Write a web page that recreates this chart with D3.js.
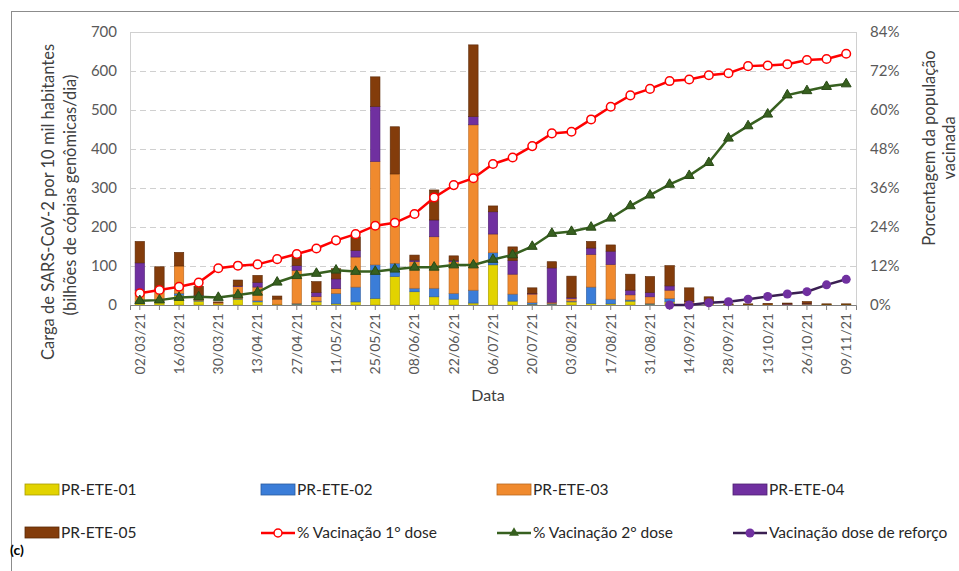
<!DOCTYPE html>
<html>
<head>
<meta charset="utf-8">
<script src="https://cdn.jsdelivr.net/npm/d3@7"></script>
<style>
  body { margin: 0; background: #fff; }
  svg { font-family: Lato, "Open Sans", sans-serif; }
  .tick text { fill: #595959; }
</style>
</head>
<body>
<svg width="959" height="571"></svg>
<script>
// weekly samples
var dates = ["02/03/21","09/03/21","16/03/21","23/03/21","30/03/21","06/04/21","13/04/21","20/04/21","27/04/21","04/05/21",
             "11/05/21","18/05/21","25/05/21","01/06/21","08/06/21","15/06/21","22/06/21","29/06/21","06/07/21","13/07/21",
             "20/07/21","27/07/21","03/08/21","10/08/21","17/08/21","24/08/21","31/08/21","07/09/21","14/09/21","21/09/21",
             "28/09/21","05/10/21","13/10/21","19/10/21","26/10/21","02/11/21","09/11/21"];

var ete01 = [5,8,25,10,3,15,8,2,2,8, 3,8,17,73,34,21,15,5,103,10, 2,2,8,4,3,10,2,8,2,3, 1,1,1,1,1,1,1];
var ete02 = [3,2,5,2,0,2,3,0,2,2, 27,38,86,34,9,22,15,33,31,18, 4,2,2,42,12,3,2,9,2,0, 0,0,0,0,1,0,0];
var ete03 = [30,25,70,10,3,30,35,13,85,12, 12,77,265,229,68,132,81,424,48,51, 22,3,6,84,89,13,17,21,4,3, 0,0,1,1,1,0,0];
var ete04 = [70,5,0,3,0,2,12,0,12,10, 25,17,141,0,4,43,3,21,57,35, 2,88,3,16,34,12,11,11,2,0, 0,0,0,1,1,0,0];
var ete05 = [55,58,35,23,2,15,18,8,27,28, 26,35,76,121,13,77,12,184,15,35, 14,16,55,17,16,41,41,52,34,15, 2,2,2,2,5,2,2];

// % vaccinated
var dose1 = [3.6,4.6,5.6,6.9,11.3,12.1,12.5,14.1,15.7,17.4, 19.9,21.8,24.4,25.3,28,33.1,36.9,39,43.4,45.4,
             48.9,52.8,53.3,57.1,61,64.5,66.5,68.9,69.4,70.7, 71.3,73.5,73.7,74.1,75.4,75.7,77.3];
var dose2 = [1.3,1.5,2.3,2.5,2.3,3.1,3.9,7,9,9.7, 10.7,10.3,10.3,11,11.6,11.6,12.3,12.3,14,15.4,
             18,22,22.6,23.9,26.7,30.5,33.8,37.1,39.8,43.8, 51.3,55.1,58.7,64.6,65.9,67.2,68];
var reforco = [null,null,null,null,null,null,null,null,null,null, null,null,null,null,null,null,null,null,null,null,
               null,null,null,null,null,null,null,0,0,0.7, 1,1.8,2.6,3.4,4.1,6.2,7.9];

var leftTicks = [0,100,200,300,400,500,600,700];
var rightTicks = [0,12,24,36,48,60,72,84];

var keys = ["PR-ETE-01","PR-ETE-02","PR-ETE-03","PR-ETE-04","PR-ETE-05"];
var colors = ["#E2D300","#3B7DD8","#F08A2E","#7030A0","#833C0B"];
var strokes = ["#A89C00","#2A5A9E","#B8661F","#4E2170","#5A2807"];
var lineNames = ["% Vacinação 1° dose","% Vacinação 2° dose","Vacinação dose de reforço"];

var svg = d3.select("svg");
var pLeft = 130, pRight = 856, pTop = 32, pBottom = 305;

// outer frame
svg.append("rect").attr("x", 11.5).attr("y", 11.5).attr("width", 1000).attr("height", 1000)
  .attr("fill", "none").attr("stroke", "#8c8c8c");

var x = d3.scaleBand().domain(dates).range([pLeft, pRight]).paddingInner(0.52).paddingOuter(0.26);
var y = d3.scaleLinear().domain([0, 700]).range([pBottom, pTop]);
var y2 = d3.scaleLinear().domain([0, 84]).range([pBottom, pTop]);

// grid
svg.append("g").selectAll("line").data(leftTicks.slice(1, -1)).enter().append("line")
  .attr("x1", pLeft).attr("x2", pRight)
  .attr("y1", function(d) { return Math.round(y(d)) + 0.5; })
  .attr("y2", function(d) { return Math.round(y(d)) + 0.5; })
  .attr("stroke", "#d0d0d0").attr("stroke-dasharray", "6,4");

// plot frame
svg.append("rect").attr("x", pLeft + 0.5).attr("y", pTop + 0.5)
  .attr("width", pRight - pLeft).attr("height", pBottom - pTop)
  .attr("fill", "none").attr("stroke", "#d0d0d0");

// stacked bars
var table = dates.map(function(d, i) {
  return { date: d, "PR-ETE-01": ete01[i], "PR-ETE-02": ete02[i], "PR-ETE-03": ete03[i],
           "PR-ETE-04": ete04[i], "PR-ETE-05": ete05[i] };
});
var stack = d3.stack().keys(keys)(table);

svg.append("g").selectAll("g").data(stack).enter().append("g")
  .attr("fill", function(d, i) { return colors[i]; })
  .attr("stroke", function(d, i) { return strokes[i]; })
  .attr("stroke-width", 0.6)
  .selectAll("rect").data(function(d) { return d; }).enter().append("rect")
  .attr("x", function(d) { return x(d.data.date); })
  .attr("width", x.bandwidth())
  .attr("y", function(d) { return y(d[1]); })
  .attr("height", function(d) { return Math.max(0, y(d[0]) - y(d[1])); });

// axes
var xAxis = svg.append("g").attr("transform", "translate(0," + pBottom + ")")
  .call(d3.axisBottom(x).tickSize(5).tickFormat(function(d, i) { return i % 2 === 0 ? d : ""; }));
xAxis.select(".domain").attr("stroke", "#808080");
xAxis.selectAll(".tick line").attr("stroke", "#808080");
xAxis.selectAll("text")
  .attr("transform", "rotate(-90)")
  .attr("text-anchor", "end")
  .attr("x", -8).attr("y", 0).attr("dy", "0.35em")
  .attr("font-size", 14).attr("font-family", "Lato");

var yAxis = svg.append("g").attr("transform", "translate(" + pLeft + ",0)")
  .call(d3.axisLeft(y).tickValues(leftTicks).tickSize(0).tickPadding(13));
yAxis.select(".domain").remove();
yAxis.selectAll("text").attr("font-size", 15).attr("font-family", "Lato");

var yAxis2 = svg.append("g").attr("transform", "translate(" + pRight + ",0)")
  .call(d3.axisRight(y2).tickValues(rightTicks).tickSize(0).tickPadding(14)
    .tickFormat(function(d) { return d + "%"; }));
yAxis2.select(".domain").remove();
yAxis2.selectAll("text").attr("font-size", 15).attr("font-family", "Lato");

// axis titles
function vText(tx, ty, txt, size) {
  svg.append("text").attr("transform", "translate(" + tx + "," + ty + ") rotate(-90)")
    .attr("text-anchor", "middle").attr("font-size", size).attr("fill", "#404040").text(txt);
}
vText(54, 202, "Carga de SARS-CoV-2 por 10 mil habitantes", 16.5);
vText(76, 195, "(bilhões de cópias genômicas/dia)", 16.5);
vText(935, 148, "Porcentagem da população", 16.5);
vText(955, 148, "vacinada", 16.5);

svg.append("text").attr("x", 488).attr("y", 401).attr("text-anchor", "middle")
  .attr("font-size", 16).attr("fill", "#404040").text("Data");

// lines
var cx = function(d, i) { return x(dates[i]) + x.bandwidth() / 2; };

function drawLine(vals, color, width) {
  var line = d3.line().defined(function(d) { return d !== null; })
    .x(cx).y(function(d) { return y2(d); });
  svg.append("path").datum(vals).attr("d", line)
    .attr("fill", "none").attr("stroke", color).attr("stroke-width", width);
}

drawLine(dose1, "#FF0000", 2.5);
drawLine(dose2, "#37601F", 2.5);
drawLine(reforco, "#3A1F52", 2.5);

svg.append("g").selectAll("circle").data(dose1).enter().append("circle")
  .attr("cx", cx).attr("cy", function(d) { return y2(d); }).attr("r", 4.3)
  .attr("fill", "#fff").attr("stroke", "#FF0000").attr("stroke-width", 1.5);

var tri = d3.symbol().type(d3.symbolTriangle).size(42);
svg.append("g").selectAll("path").data(dose2).enter().append("path")
  .attr("d", tri)
  .attr("transform", function(d, i) { return "translate(" + cx(d, i) + "," + y2(d) + ")"; })
  .attr("fill", "#37601F").attr("stroke", "#2a4a17");

svg.append("g").selectAll("circle").data(reforco).enter().append("circle")
  .attr("display", function(d) { return d === null ? "none" : null; })
  .attr("cx", cx).attr("cy", function(d) { return y2(d || 0); }).attr("r", 4.5)
  .attr("fill", "#7030A0");

// legend
var colX = [25, 261, 497, 733];
var rowY = [490, 533];
var leg = svg.append("g").attr("font-size", 15.5).attr("fill", "#262626");

keys.forEach(function(k, i) {
  var lx = colX[i % 4], ly = rowY[Math.floor(i / 4)];
  leg.append("rect").attr("x", lx).attr("y", ly - 6).attr("width", 34).attr("height", 11)
    .attr("fill", colors[i]).attr("stroke", strokes[i]).attr("stroke-width", 0.8);
  leg.append("text").attr("x", lx + 36).attr("y", ly + 5).text(k);
});

var lineCols = ["#FF0000", "#37601F", "#3A1F52"];
lineNames.forEach(function(n, j) {
  var i = j + 5;
  var lx = colX[i % 4], ly = rowY[1];
  leg.append("line").attr("x1", lx).attr("x2", lx + 34).attr("y1", ly).attr("y2", ly)
    .attr("stroke", lineCols[j]).attr("stroke-width", 2.5);
  if (j === 0) {
    leg.append("circle").attr("cx", lx + 17).attr("cy", ly).attr("r", 4)
      .attr("fill", "#fff").attr("stroke", "#FF0000").attr("stroke-width", 1.5);
  } else if (j === 1) {
    leg.append("path").attr("d", tri).attr("transform", "translate(" + (lx + 17) + "," + ly + ")")
      .attr("fill", "#37601F");
  } else {
    leg.append("circle").attr("cx", lx + 17).attr("cy", ly).attr("r", 4.5).attr("fill", "#7030A0");
  }
  leg.append("text").attr("x", lx + 36).attr("y", ly + 5).text(n);
});

svg.append("text").attr("x", 10).attr("y", 555).attr("font-size", 14).attr("font-weight", "bold")
  .attr("fill", "#000").text("(c)");
</script>
</body>
</html>
